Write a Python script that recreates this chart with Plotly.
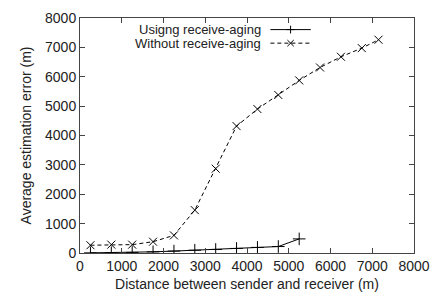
import plotly.graph_objects as go

distance_using = [250, 750, 1250, 1750, 2250, 2750, 3250, 3750, 4250, 4750, 5250]
error_using = [5, 10, 20, 40, 65, 95, 120, 155, 190, 220, 480]

distance_without = [250, 750, 1250, 1750, 2250, 2750, 3250, 3750, 4250, 4750,
                    5250, 5750, 6250, 6750, 7150]
error_without = [265, 285, 285, 385, 600, 1460, 2870, 4320, 4900, 5380,
                 5875, 6315, 6680, 6975, 7260]

label_using = "Usigng receive-aging"
label_without = "Without receive-aging"
x_title = "Distance between sender and receiver (m)"
y_title = "Average estimation error (m)"
x_ticks = [0, 1000, 2000, 3000, 4000, 5000, 6000, 7000, 8000]
y_ticks = [0, 1000, 2000, 3000, 4000, 5000, 6000, 7000, 8000]

FONT = "Liberation Sans, Arial, sans-serif"
TXT = "#222222"
FS = 14
LFS = 13

fig = go.Figure()
fig.add_trace(go.Scatter(
    x=distance_without, y=error_without, mode="lines+markers",
    line=dict(color="black", width=1, dash="4px,3px"),
    marker=dict(symbol="x-thin", size=8, line=dict(color="black", width=1)),
    showlegend=False))
fig.add_trace(go.Scatter(
    x=distance_using, y=error_using, mode="lines+markers",
    line=dict(color="black", width=1),
    marker=dict(symbol="cross-thin", size=9, line=dict(color="black", width=1)),
    showlegend=False))

axis_common = dict(
    showgrid=False, zeroline=False, ticks="inside", ticklen=5,
    tickcolor="#444444", tickwidth=1, showline=True, linecolor="#444444",
    linewidth=1, mirror="ticks",
    tickfont=dict(family=FONT, size=FS, color=TXT),
)
fig.update_xaxes(range=[0, 8000], tickvals=x_ticks,
                 title=dict(text=x_title, font=dict(family=FONT, size=FS, color=TXT), standoff=6),
                 **axis_common)
fig.update_yaxes(range=[0, 8000], tickvals=y_ticks,
                 title=dict(text=y_title, font=dict(family=FONT, size=FS, color=TXT), standoff=10),
                 **axis_common)

# gnuplot-style legend: text, then sample line with marker
W, H = 337.0, 243.0
rows = [(label_using, 0.9506, "solid", "plus"), (label_without, 0.8930, "dash", "x")]
shapes = []
annotations = []
for text, yy, dash, mk in rows:
    annotations.append(dict(xref="paper", yref="paper", x=0.549, y=yy, text=text,
                            showarrow=False, xanchor="right", yanchor="middle",
                            font=dict(family=FONT, size=LFS, color=TXT)))
    shapes.append(dict(type="line", xref="paper", yref="paper", x0=0.570, x1=0.691,
                       y0=yy, y1=yy,
                       line=dict(color="black", width=1,
                                 dash="solid" if dash == "solid" else "4px,3px")))
    cx = (0.570 + 0.691) / 2
    dx, dy = 4.0 / W, 4.0 / H
    if mk == "plus":
        path = f"M{cx - dx},{yy} L{cx + dx},{yy} M{cx},{yy - dy} L{cx},{yy + dy}"
    else:
        dx, dy = 3.2 / W, 3.2 / H
        path = (f"M{cx - dx},{yy - dy} L{cx + dx},{yy + dy} "
                f"M{cx - dx},{yy + dy} L{cx + dx},{yy - dy}")
    shapes.append(dict(type="path", xref="paper", yref="paper", path=path,
                       line=dict(color="black", width=1)))

fig.update_layout(
    width=440, height=304,
    margin=dict(l=80, r=23, t=10, b=51),
    paper_bgcolor="white", plot_bgcolor="white",
    shapes=shapes, annotations=annotations,
    font=dict(family=FONT, size=FS, color=TXT),
)
fig.write_html("out.html",
               config={"displayModeBar": False},
               post_script="document.body.style.margin='0';"
                           "document.documentElement.style.overflow='hidden';")
